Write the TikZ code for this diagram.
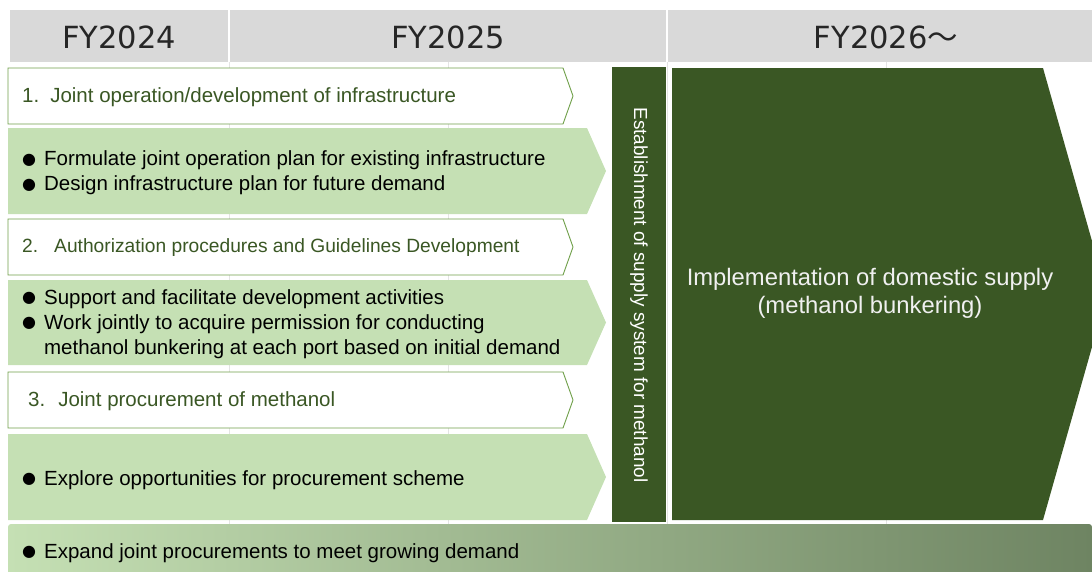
\documentclass[tikz,border=0pt]{standalone}
\usepackage{fontspec}
\setmainfont{Liberation Sans}
\newfontfamily\headfont{DejaVu Sans}
\newfontfamily\cjkfont{Noto Sans CJK JP}
\newfontfamily\symfont{DejaVu Sans}
\usetikzlibrary{calc}
\definecolor{headgray}{HTML}{D9D9D9}
\definecolor{gridgray}{HTML}{E4E4E4}
\definecolor{palegreen}{HTML}{C5E0B4}
\definecolor{deepgreen}{HTML}{3A5724}
\definecolor{rimgreen}{HTML}{70A04A}
\definecolor{dimgreen}{HTML}{6E8462}
\newcommand{\blt}{\raisebox{1.8pt}{\symfont\fontsize{16}{18}\selectfont ●}\hspace{8pt}}
\begin{document}
\begin{tikzpicture}[x=1pt, y=-1pt,
  stage/.style={draw=rimgreen, fill=white, line width=0.9pt},
  task/.style={fill=palegreen},
  headtxt/.style={font=\headfont\fontsize{30.5}{34}\selectfont, text=black!85},
  stagetxt/.style={anchor=west, text=deepgreen, font=\fontsize{20.5}{25}\selectfont, inner sep=0pt},
  tasktxt/.style={anchor=west, align=left, font=\fontsize{20.5}{25}\selectfont, inner sep=0pt}]
  \useasboundingbox (0,0) rectangle (1092,571);
  \clip (0,0) rectangle (1092,571);
  % Grid
  \foreach \x in {229,448,667,886}
    \draw[gridgray, line width=0.8pt] (\x,62) -- (\x,571);
  % Header
  \fill[headgray] (10,10) rectangle (1092,62);
  \draw[white, line width=2pt] (229,10) -- (229,62) (667,10) -- (667,62);
  \node[headtxt] (fy24) at (119,37) {FY2024};
  \node[headtxt] (fy25) at (448,37) {FY2025};
  \node[headtxt] (fy26) at (886,37) {FY2026{\cjkfont ～}};
  % Arrows
  \foreach \t/\b in {68/124,219/275,372/428}
    \draw[stage] (8,\t) -- (563,\t) -- (573,{(\t+\b)/2}) -- (563,\b) -- (8,\b) -- cycle;
  \foreach \t/\b in {128/214,280/365,434/520}
    \fill[task] (8,\t) -- (587,\t) -- (606,{(\t+\b)/2}) -- (587,\b) -- (8,\b) -- cycle;
  \fill[deepgreen] (612,67) rectangle (666,522);
  \fill[deepgreen] (672,68) -- (1043,68) -- (1107,294) -- (1043,520) -- (672,520) -- cycle;
  \shade[left color=palegreen, right color=dimgreen, rounded corners=3pt] (8,524) rectangle (1092,580);
  % Texts
  \node[stagetxt] (s1) at (22,97) {1.\hspace{11pt}Joint operation/development of infrastructure};
  \node[tasktxt] (t1) at (22,173) {\blt Formulate joint operation plan for existing infrastructure\\\blt Design infrastructure plan for future demand};
  \node[stagetxt, font=\fontsize{19.2}{22}\selectfont] (s2) at (22,248) {2.\hspace{16pt}Authorization procedures and Guidelines Development};
  \node[tasktxt] (t2) at (22,324) {\blt Support and facilitate development activities\\\blt Work jointly to acquire permission for conducting\\\phantom{\blt}methanol bunkering at each port based on initial demand};
  \node[stagetxt] (s3) at (28,401) {3.\hspace{13pt}Joint procurement of methanol};
  \node[tasktxt] (t3) at (22,480) {\blt Explore opportunities for procurement scheme};
  \node[tasktxt] (t4) at (22,553) {\blt Expand joint procurements to meet growing demand};
  \node[rotate=-90, text=white, font=\fontsize{18.9}{20}\selectfont] (est) at (639,295) {Establishment of supply system for methanol};
  \node[align=center, text=white!94!black, font=\fontsize{23.8}{28}\selectfont] (impl) at (870,293) {Implementation of domestic supply\\(methanol bunkering)};
\end{tikzpicture}
\end{document}
